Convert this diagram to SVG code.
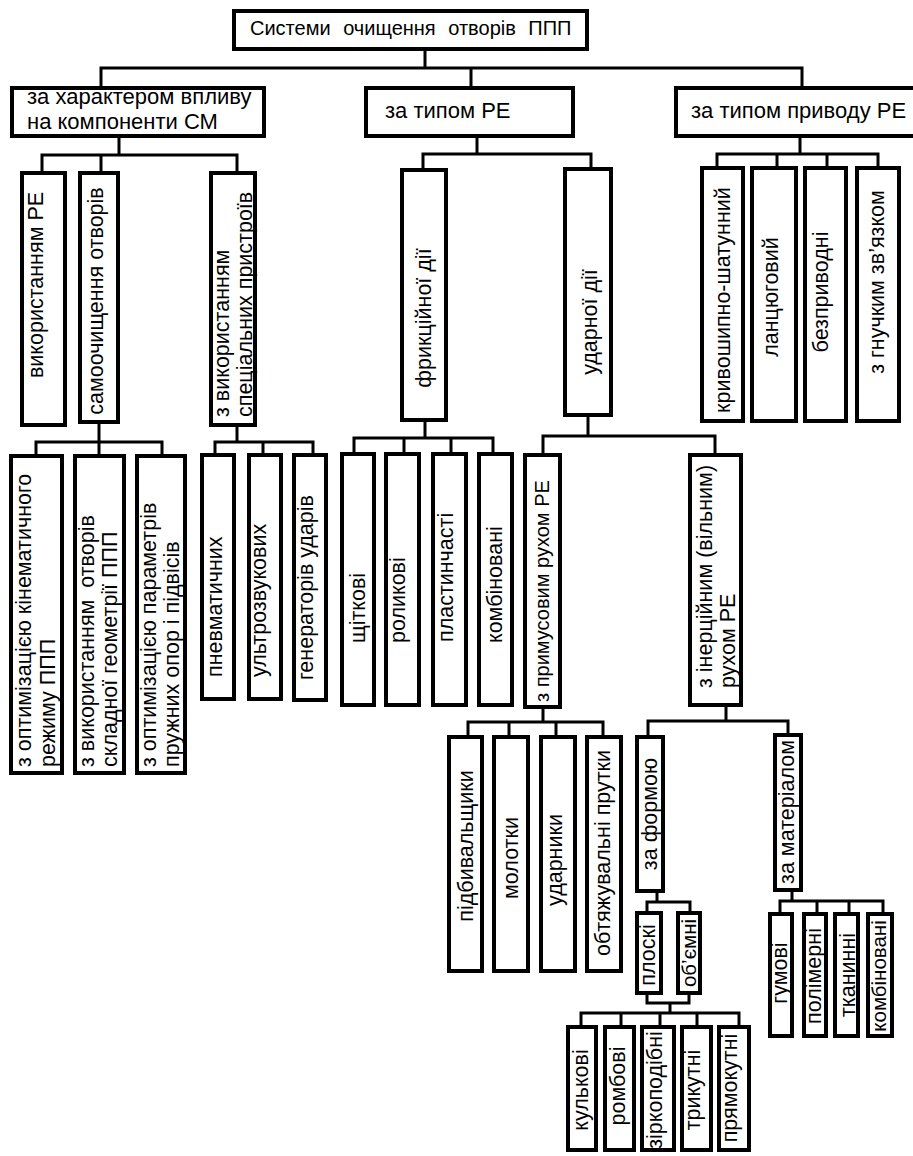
<svg xmlns="http://www.w3.org/2000/svg" width="913" height="1156" viewBox="0 0 913 1156">
<style>
.b{fill:#fff;stroke:#000;stroke-width:4}
.c{fill:none;stroke:#000;stroke-width:3;stroke-linecap:square}
text{font-family:"Liberation Sans",Arial,sans-serif;fill:#000}
.h{font-size:22px}
.r{font-size:20px;word-spacing:7px}
.v{font-size:21.5px}
.m{text-anchor:middle}
</style>
<rect width="913" height="1156" fill="#fff"/>
<g id="connectors">
<path class="c" d="M425 51V68M101 68H802M101 68V86M471 68V86M802 68V86"/>
<path class="c" d="M119 138V155M42 155H237M42 155V171M101 155V171M237 155V171"/>
<path class="c" d="M477 138V154M423 154H591M423 154V168M591 154V167"/>
<path class="c" d="M800 138V154M717 154H878M717 154V166M777 154V166M827 154V166M878 154V166"/>
<path class="c" d="M99 424V442M36 442H162M36 442V454M99 442V454M162 442V454"/>
<path class="c" d="M237 427V442M215 442H313M215 442V453M263 442V453M313 442V453"/>
<path class="c" d="M425 422V438M354 438H493M354 438V452M404 438V452M451 438V452M493 438V452"/>
<path class="c" d="M588 417V436M543 436H715M543 436V453M715 436V453"/>
<path class="c" d="M543 709V722M468 722H603M468 722V735M509 722V735M556 722V735M603 722V735"/>
<path class="c" d="M726 707V721M648 721H788M648 721V735M788 721V733"/>
<path class="c" d="M657 893V902M647 902H690M647 902V911M690 902V911"/>
<path class="c" d="M647 995V1003H689V995M670 1003V1013M581 1013H739M581 1013V1025M621 1013V1025M660 1013V1025M697 1013V1025M739 1013V1025"/>
<path class="c" d="M792 892V901M780 901H883M780 901V912M817 901V912M849 901V912M883 901V912"/>
</g>
<g id="root"><rect class="b" x="234" y="11" width="353" height="38"/><text class="r" x="250" y="35">Системи очищення отворів ППП</text></g>
<g id="n-character"><rect class="b" x="12" y="88" width="252" height="48"/><text class="h" x="27" y="104">за характером впливу</text><text class="h" x="27" y="129">на компоненти СМ</text></g>
<g id="n-type"><rect class="b" x="366" y="88" width="207" height="48"/><text class="h" x="385" y="118">за типом РЕ</text></g>
<g id="n-drive"><rect class="b" x="676" y="88" width="250" height="48"/><text class="h" x="691" y="118">за типом приводу РЕ</text></g>

<g id="a1"><rect class="b" x="22" y="173" width="43" height="252"/><text class="v m" transform="translate(43,285) rotate(-90)">використанням РЕ</text></g>
<g id="a2"><rect class="b" x="80" y="173" width="38" height="249"/><text class="v m" transform="translate(103,301) rotate(-90)">самоочищення отворів</text></g>
<g id="a3"><rect class="b" x="211" y="173" width="44" height="252"/><text class="v" transform="translate(229,417) rotate(-90)"><tspan x="0" y="0">з використанням</tspan><tspan x="0" y="23">спеціальних пристроїв</tspan></text></g>
<g id="f"><rect class="b" x="402" y="170" width="44" height="250"/><text class="v m" transform="translate(431,318) rotate(-90)">фрикційної дії</text></g>
<g id="u"><rect class="b" x="565" y="169" width="46" height="246"/><text class="v m" transform="translate(597,322) rotate(-90)">ударної дії</text></g>
<g id="d1"><rect class="b" x="702" y="168" width="41" height="253"/><text class="v m" transform="translate(730,300) rotate(-90)">кривошипно-шатунний</text></g>
<g id="d2"><rect class="b" x="752" y="168" width="44" height="253"/><text class="v m" transform="translate(778,297) rotate(-90)">ланцюговий</text></g>
<g id="d3"><rect class="b" x="805" y="168" width="41" height="253"/><text class="v m" transform="translate(828,292) rotate(-90)">безприводні</text></g>
<g id="d4"><rect class="b" x="857" y="168" width="42" height="253"/><text class="v m" transform="translate(884,282) rotate(-90)">з гнучким зв’язком</text></g>

<g id="k1"><rect class="b" x="11" y="456" width="51" height="317"/><text class="v" transform="translate(31,767) rotate(-90)"><tspan x="0" y="0">з оптимізацією кінематичного</tspan><tspan x="0" y="24">режиму ППП</tspan></text></g>
<g id="k2"><rect class="b" x="75" y="456" width="49" height="317"/><text class="v" xml:space="preserve" transform="translate(94,767) rotate(-90)"><tspan x="0" y="0">з використанням  отворів</tspan><tspan x="0" y="23">складної геометрії ППП</tspan></text></g>
<g id="k3"><rect class="b" x="137" y="456" width="48" height="317"/><text class="v" transform="translate(156,767) rotate(-90)"><tspan x="0" y="0">з оптимізацією параметрів</tspan><tspan x="0" y="23">пружних опор і підвісів</tspan></text></g>
<g id="s1"><rect class="b" x="202" y="455" width="32" height="244"/><text class="v" transform="translate(222,677) rotate(-90)">пневматичних</text></g>
<g id="s2"><rect class="b" x="249" y="455" width="32" height="244"/><text class="v" transform="translate(266,677) rotate(-90)">ультрозвукових</text></g>
<g id="s3"><rect class="b" x="294" y="455" width="32" height="245"/><text class="v" transform="translate(313,680) rotate(-90)">генераторів ударів</text></g>
<g id="r1"><rect class="b" x="342" y="454" width="32" height="251"/><text class="v" transform="translate(365,643) rotate(-90)">щіткові</text></g>
<g id="r2"><rect class="b" x="386" y="454" width="33" height="251"/><text class="v" transform="translate(405,643) rotate(-90)">роликові</text></g>
<g id="r3"><rect class="b" x="433" y="454" width="33" height="251"/><text class="v" transform="translate(453,642) rotate(-90)">пластинчасті</text></g>
<g id="r4"><rect class="b" x="479" y="454" width="33" height="251"/><text class="v" transform="translate(502,643) rotate(-90)">комбіновані</text></g>
<g id="p"><rect class="b" x="525" y="455" width="35" height="252"/><text class="v" style="font-size:20px" transform="translate(549,702) rotate(-90)">з примусовим рухом РЕ</text></g>
<g id="i"><rect class="b" x="690" y="455" width="51" height="250"/><text class="v" transform="translate(712,688) rotate(-90)"><tspan x="0" y="0">з інерційним (вільним)</tspan><tspan x="0" y="23">рухом РЕ</tspan></text></g>

<g id="m1"><rect class="b" x="449" y="737" width="33" height="234"/><text class="v m" transform="translate(473,846) rotate(-90)">підбивальщики</text></g>
<g id="m2"><rect class="b" x="494" y="737" width="34" height="234"/><text class="v m" transform="translate(518,858) rotate(-90)">молотки</text></g>
<g id="m3"><rect class="b" x="541" y="737" width="34" height="234"/><text class="v m" transform="translate(562,860) rotate(-90)">ударники</text></g>
<g id="m4"><rect class="b" x="587" y="737" width="34" height="234"/><text class="v m" transform="translate(610,853) rotate(-90)">обтяжувальні прутки</text></g>
<g id="zf"><rect class="b" x="637" y="737" width="26" height="154"/><text class="v m" transform="translate(657,814) rotate(-90)">за формою</text></g>
<g id="zm"><rect class="b" x="775" y="735" width="26" height="155"/><text class="v m" transform="translate(794,812) rotate(-90)">за матеріалом</text></g>

<g id="pl"><rect class="b" x="637" y="913" width="24" height="80"/><text class="v m" transform="translate(655,955) rotate(-90)">плоскі</text></g>
<g id="ob"><rect class="b" x="678" y="913" width="22" height="80"/><text class="v m" style="font-size:20.5px" transform="translate(696,953) rotate(-90)">об’ємні</text></g>
<g id="l1"><rect class="b" x="568" y="1027" width="28" height="123"/><text class="v m" transform="translate(588,1090) rotate(-90)">кулькові</text></g>
<g id="l2"><rect class="b" x="605" y="1027" width="29" height="123"/><text class="v m" transform="translate(625,1086) rotate(-90)">ромбові</text></g>
<g id="l3"><rect class="b" x="642" y="1027" width="32" height="123"/><text class="v m" transform="translate(662,1090) rotate(-90)">зіркоподібні</text></g>
<g id="l4"><rect class="b" x="682" y="1027" width="29" height="123"/><text class="v m" transform="translate(700,1090) rotate(-90)">трикутні</text></g>
<g id="l5"><rect class="b" x="719" y="1027" width="30" height="123"/><text class="v m" transform="translate(737,1088) rotate(-90)">прямокутні</text></g>
<g id="g1"><rect class="b" x="770" y="914" width="22" height="122"/><text class="v m" transform="translate(787,973) rotate(-90)">гумові</text></g>
<g id="g2"><rect class="b" x="804" y="914" width="22" height="122"/><text class="v m" transform="translate(821,976) rotate(-90)">полімерні</text></g>
<g id="g3"><rect class="b" x="835" y="914" width="23" height="122"/><text class="v m" transform="translate(855,975) rotate(-90)">тканинні</text></g>
<g id="g4"><rect class="b" x="868" y="914" width="24" height="122"/><text class="v m" style="font-size:20.5px" transform="translate(886,976) rotate(-90)">комбіновані</text></g>
</svg>
